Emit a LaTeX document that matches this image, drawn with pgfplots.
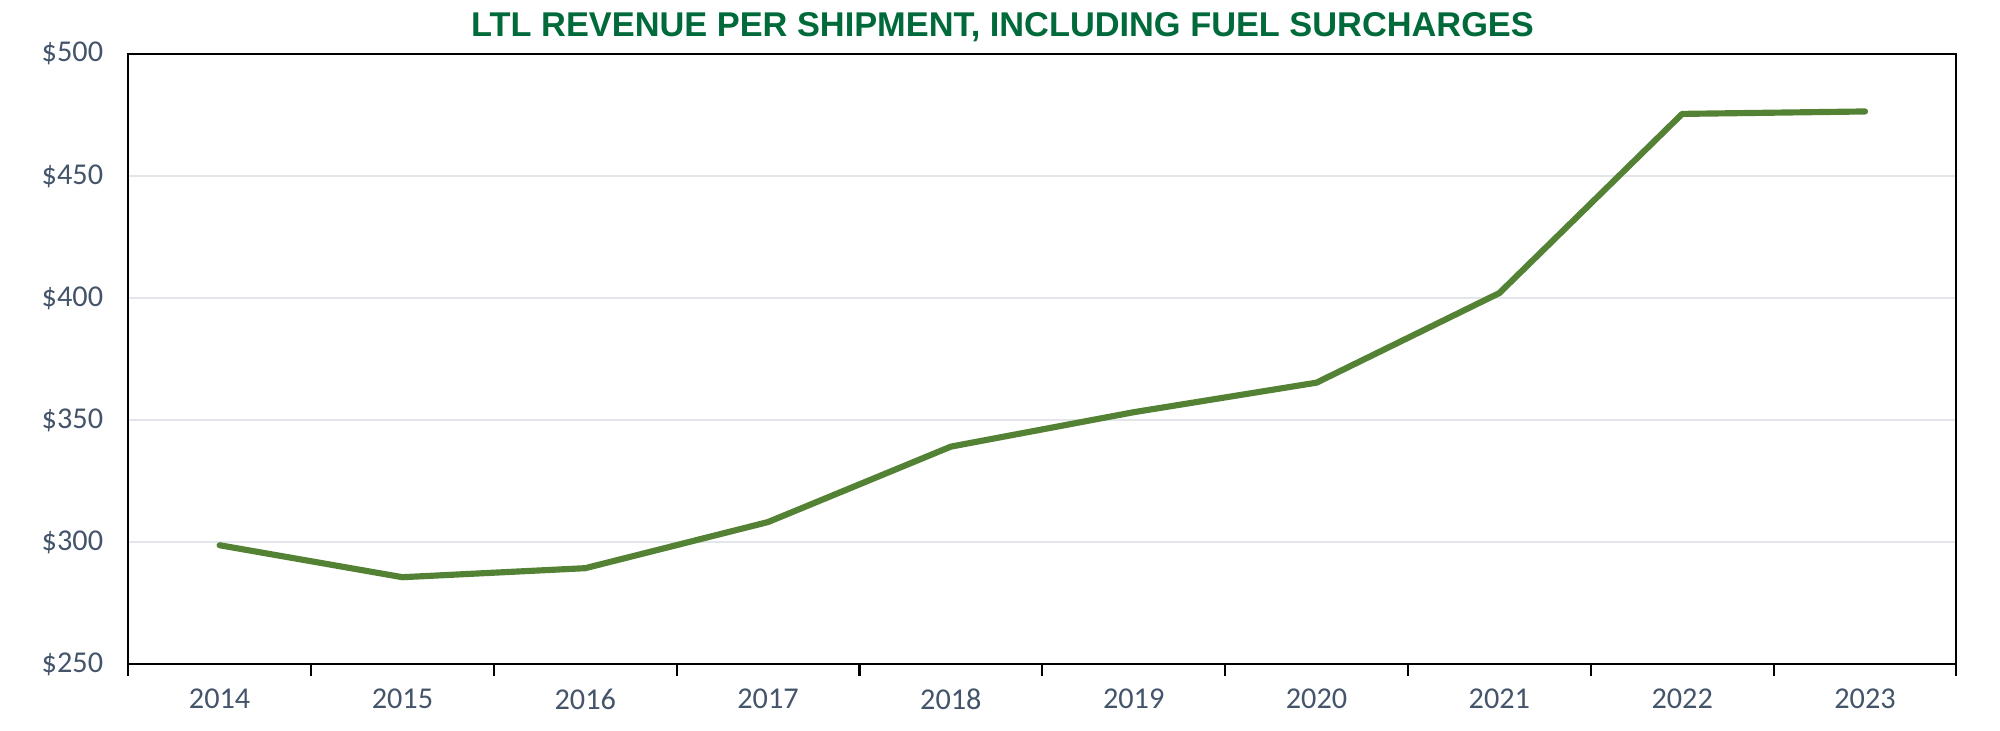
\documentclass[border=0pt]{standalone}
\usepackage{pgfplots}
\pgfplotsset{compat=1.18}
\usepackage{fontspec}
\setmainfont{Carlito}
\newfontfamily\titlefont{Liberation Sans}
\definecolor{titlegreen}{RGB}{0,106,58}
\definecolor{linegreen}{RGB}{84,130,53}
\definecolor{ticktext}{RGB}{68,84,106}
\definecolor{gridc}{RGB}{226,230,234}
\begin{document}
\begin{tikzpicture}
\path[use as bounding box] (0,0) rectangle (780pt,285pt);
\node[font=\titlefont\bfseries\fontsize{13.4}{15}\selectfont, text=titlegreen] at (391pt,274.5pt) {LTL REVENUE PER SHIPMENT, INCLUDING FUEL SURCHARGES};
\begin{axis}[
  at={(50pt,26pt)}, anchor=south west,
  scale only axis, width=713pt, height=238pt,
  xmin=-0.5, xmax=9.5, ymin=250, ymax=500,
  xtick={0,...,9},
  xticklabels={2014,2015,2016,2017,2018,2019,2020,2021,2022,2023},
  minor xtick={-0.5,0.5,...,9.5},
  xtick pos=bottom,
  major x tick style={draw=none},
  minor tick length=4.5pt,
  tick align=outside,
  ytick={250,300,...,500},
  yticklabel={\$\pgfmathprintnumber{\tick}},
  major y tick style={draw=none},
  ymajorgrids, grid style={gridc, line width=0.8pt},
  axis line style={black, line width=0.8pt},
  every tick/.style={black, line width=0.8pt},
  tick label style={font=\fontsize{11.8}{14}\selectfont, text=ticktext},
  xticklabel style={yshift=-2pt},
  yticklabel style={xshift=-2pt},
  /pgf/number format/assume math mode=true,
]
\addplot[linegreen, line width=2.4pt, line join=round, line cap=round] coordinates {
(0,298.7) (1,285.6) (2,289.3) (3,308.2) (4,339.1) (5,353.2) (6,365.3) (7,402.0) (8,475.4) (9,476.4)
};
\end{axis}
\end{tikzpicture}
\end{document}
